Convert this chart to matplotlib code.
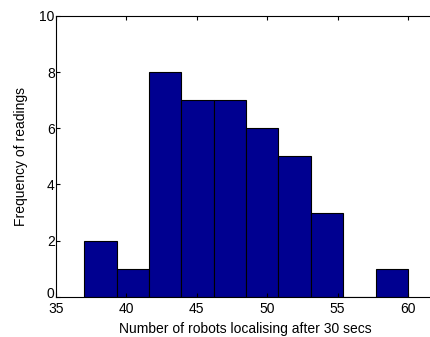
import numpy as np
import matplotlib
matplotlib.use("Agg")
import matplotlib.pyplot as plt
import matplotlib.transforms as mtransforms

plt.rcParams["font.family"] = ["Liberation Sans", "DejaVu Sans"]

# histogram counts, 10 bins from 37 to 60
counts = [2, 1, 8, 7, 7, 6, 5, 3, 0, 1]
bin_lo = 37.0
bin_hi = 60.0
x_ticks = [35, 40, 45, 50, 55, 60]
y_ticks = [0, 2, 4, 6, 8, 10]

edges = np.linspace(bin_lo, bin_hi, len(counts) + 1)
widths = np.diff(edges)

fig = plt.figure(figsize=(4.31, 3.37), dpi=100)
# the reference crops the right side of the axes
ax = fig.add_axes([0.130, 0.119, 0.98, 0.834])

ax.bar(edges[:-1], counts, width=widths, align="edge",
       color="#000090", edgecolor="black", linewidth=0.8)

ax.set_xlim(35, 65)
ax.set_ylim(0, 10)
ax.set_xticks(x_ticks)
ax.set_yticks(y_ticks)
ax.tick_params(direction="in", top=True, right=True, length=3,
               labelsize=10)
ax.tick_params(axis="x", pad=4)
ax.tick_params(axis="y", pad=1)
for s in ax.spines.values():
    s.set_linewidth(0.8)

# lift the "0" a little so it clears the "35" below it
lbl0 = ax.get_yticklabels()[0]
lbl0.set_transform(lbl0.get_transform() +
                   mtransforms.ScaledTranslation(0, 3 / 72, fig.dpi_scale_trans))

ax.set_xlabel("Number of robots localising after 30 secs", fontsize=10)
ax.xaxis.set_label_coords(245 / 431, 0.045, transform=fig.transFigure)
ax.set_ylabel("Frequency of readings", fontsize=10, labelpad=8)

fig.savefig("out.png", dpi=100)
